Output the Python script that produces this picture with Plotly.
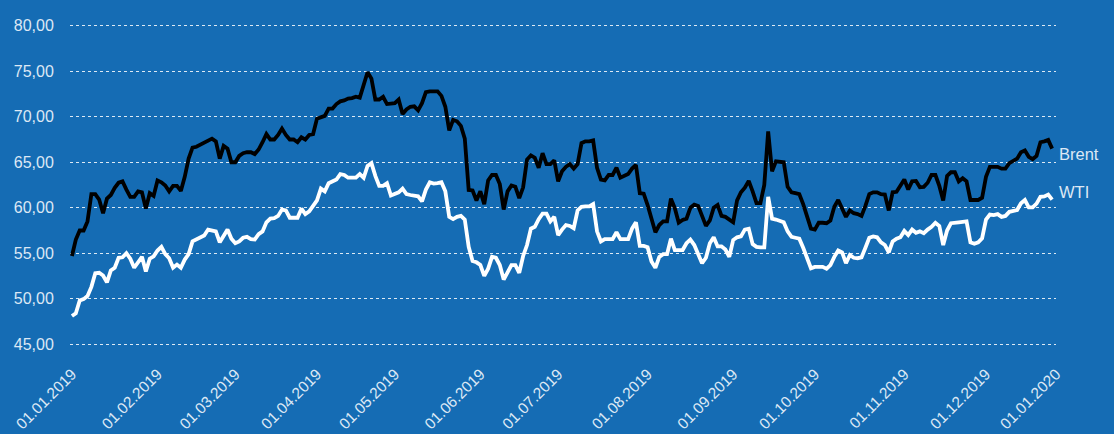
import numpy as np
import pandas as pd
import plotly.graph_objects as go

# Exchange holidays 2019 (trading calendar of the category axis)
holidays = ['2019-01-01', '2019-04-19', '2019-04-22', '2019-05-01',
            '2019-12-24', '2019-12-25', '2019-12-26', '2019-12-31']
trading_days = pd.bdate_range('2019-01-01', '2019-12-31', freq='C', holidays=holidays)

brent = [
    54.7, 56.5, 57.5, 57.5, 58.5, 61.5, 61.5, 60.9, 59.4, 61.0,
    61.4, 62.2, 62.75, 62.9, 62.0, 61.2, 61.2, 61.8, 61.7, 59.9,
    61.6, 61.3, 63.0, 62.8, 62.45, 61.8, 62.4, 62.4, 61.85, 63.4,
    65.4, 66.6, 66.7, 66.95, 67.2, 67.35, 67.6, 67.3, 65.4, 66.8,
    66.5, 65.0, 65.0, 65.7, 66.0, 66.1, 66.1, 65.9, 66.4, 67.2,
    68.1, 67.5, 67.5, 68.0, 68.7, 68.0, 67.5, 67.5, 67.2, 67.75,
    67.5, 68.0, 68.1, 69.8, 70.0, 70.1, 70.9, 70.9, 71.4, 71.7,
    71.8, 72.0, 72.05, 72.2, 72.1, 73.5, 74.9, 74.2, 71.9, 71.9,
    72.2, 71.4, 71.5, 71.5, 71.9, 70.3, 70.8, 71.1, 71.15, 70.7,
    71.5, 72.7, 72.8, 72.8, 72.8, 72.3, 71.1, 68.5, 69.65, 69.5,
    69.0, 67.6, 61.95, 61.9, 60.8, 61.8, 60.4, 63.0, 63.6, 63.6,
    62.6, 59.8, 61.8, 62.45, 62.3, 61.05, 62.25, 65.3, 65.75, 65.5,
    64.4, 66.0, 64.8, 64.8, 65.2, 62.9, 64.0, 64.5, 64.8, 64.3,
    64.8, 67.1, 67.3, 67.3, 67.4, 64.4, 63.1, 63.0, 63.6, 63.6,
    64.4, 63.3, 63.45, 63.7, 64.3, 64.7, 61.6, 61.55, 60.3, 58.6,
    57.3, 58.1, 58.5, 58.5, 61.0, 59.95, 58.35, 58.65, 58.8, 60.0,
    60.35, 60.2, 59.1, 58.0, 58.6, 60.0, 60.3, 59.1, 59.0, 58.7,
    58.4, 60.8, 61.7, 62.2, 62.95, 61.8, 60.5, 60.5, 62.5, 68.4,
    64.0, 65.1, 65.1, 65.0, 62.3, 61.7, 61.6, 61.5, 60.4, 59.1,
    57.7, 57.6, 58.35, 58.35, 58.3, 58.6, 60.1, 60.85, 59.8, 59.0,
    59.7, 59.4, 59.3, 59.1, 60.2, 61.5, 61.7, 61.7, 61.5, 61.45,
    59.7, 61.7, 61.75, 62.4, 63.1, 62.0, 62.9, 62.95, 62.25, 62.3,
    62.75, 63.6, 63.6, 62.4, 60.8, 63.5, 63.9, 63.9, 62.9, 63.25,
    62.9, 60.85, 60.8, 60.85, 61.1, 63.4, 64.5, 64.5, 64.5, 64.3,
    64.3, 64.9, 65.1, 65.4, 66.1, 66.3, 65.6, 65.35, 65.7, 67.2,
    67.3, 67.45, 66.5,
]

wti = [
    48.1, 48.4, 49.8, 49.95, 50.3, 51.3, 52.8, 52.85, 52.55, 51.8,
    53.1, 53.4, 54.5, 54.55, 55.0, 54.4, 53.4, 54.1, 54.6, 53.0,
    54.4, 54.65, 55.3, 55.7, 54.9, 54.45, 53.4, 53.75, 53.4, 54.3,
    54.9, 56.3, 56.5, 56.75, 56.95, 57.6, 57.5, 57.4, 56.2, 57.0,
    57.6, 56.6, 56.1, 56.3, 56.7, 56.8, 56.55, 56.5, 57.1, 57.4,
    58.4, 58.8, 58.85, 59.1, 59.8, 59.7, 58.9, 58.9, 58.9, 59.9,
    59.3, 59.6, 60.2, 60.8, 62.1, 61.8, 62.7, 62.85, 63.1, 63.7,
    63.6, 63.3, 63.3, 63.3, 63.7, 63.3, 64.6, 64.9, 63.5, 62.4,
    62.4, 62.7, 61.35, 61.5, 61.7, 62.1, 61.5, 61.4, 61.3, 61.25,
    60.7, 62.0, 62.8, 62.65, 62.7, 62.8, 61.8, 59.0, 58.75, 59.0,
    59.1, 58.7, 55.7, 54.15, 54.0, 53.7, 52.5, 53.3, 54.6, 54.5,
    53.7, 52.1, 52.9, 53.7, 53.7, 52.85, 54.7, 55.9, 57.7, 57.9,
    58.75, 59.35, 59.35, 58.5, 59.0, 57.0, 57.6, 58.1, 58.0, 57.75,
    59.7, 60.1, 60.15, 60.15, 60.4, 57.4, 56.3, 56.55, 56.55, 56.55,
    57.3, 56.55, 56.55, 56.55, 57.7, 58.4, 55.8, 55.8, 55.65, 54.1,
    53.4, 54.6, 54.9, 54.9, 56.6, 55.35, 55.35, 55.35, 56.1, 56.5,
    55.9, 54.9, 53.9, 54.5, 56.1, 56.75, 55.75, 55.75, 55.4, 54.6,
    56.45, 56.75, 56.85, 57.6, 57.7, 56.0, 55.7, 55.65, 55.65, 61.2,
    58.8, 58.7, 58.5, 58.4, 57.4, 56.8, 56.7, 56.6, 55.6, 54.6,
    53.35, 53.5, 53.5, 53.5, 53.3, 53.7, 54.6, 55.3, 55.1, 53.9,
    54.8, 54.5, 54.45, 54.55, 55.6, 56.7, 56.85, 56.75, 56.2, 55.9,
    55.1, 56.3, 56.6, 56.75, 57.45, 57.0, 57.6, 57.25, 57.4, 57.2,
    57.6, 57.9, 58.35, 58.0, 55.9, 57.5, 58.3, 58.3, 58.4, 58.45,
    58.5, 56.2, 56.05, 56.2, 56.65, 58.7, 59.25, 59.2, 59.3, 59.0,
    59.1, 59.55, 59.7, 59.75, 60.5, 60.85, 60.05, 60.05, 60.45, 61.2,
    61.25, 61.45, 60.9,
]

month_starts = ['2019-01-01', '2019-02-01', '2019-03-01', '2019-04-01',
                '2019-05-01', '2019-06-01', '2019-07-01', '2019-08-01',
                '2019-09-01', '2019-10-01', '2019-11-01', '2019-12-01',
                '2020-01-01']
tick_text = [pd.Timestamp(d).strftime('%d.%m.%Y') for d in month_starts]

y_ticks = [45, 50, 55, 60, 65, 70, 75, 80]

n = min(len(trading_days), len(brent), len(wti))
days = trading_days[:n].values.astype('datetime64[D]')
x = np.busday_count('2019-01-01', days, holidays=holidays)
tickvals = np.busday_count('2019-01-01', np.array(month_starts, dtype='datetime64[D]'),
                           holidays=holidays)

BG = '#156cb4'
TXT = '#dce8f5'
FONT = 'Liberation Sans, Arial, Helvetica, sans-serif'

fig = go.Figure()
fig.add_trace(go.Scatter(x=x, y=brent[:n], mode='lines', name='Brent',
                         line=dict(color='#000000', width=3.8), hoverinfo='skip'))
fig.add_trace(go.Scatter(x=x, y=wti[:n], mode='lines', name='WTI',
                         line=dict(color='#ffffff', width=3.8), hoverinfo='skip'))

fig.add_annotation(x=x[-1], y=brent[n - 1], text='Brent', showarrow=False,
                   xanchor='left', yanchor='middle', xshift=5, yshift=-5,
                   font=dict(family=FONT, size=16.5, color=TXT))
fig.add_annotation(x=x[-1], y=wti[n - 1], text='WTI', showarrow=False,
                   xanchor='left', yanchor='middle', xshift=5, yshift=8,
                   font=dict(family=FONT, size=16.5, color=TXT))

fig.update_layout(
    width=1114, height=434,
    margin=dict(l=70, r=58, t=24, b=88, pad=0),
    paper_bgcolor=BG, plot_bgcolor=BG,
    separators=',.',
    showlegend=False,
    font=dict(family=FONT, size=16, color=TXT),
    xaxis=dict(
        range=[-0.5, 253], tickmode='array', tickvals=tickvals, ticktext=tick_text,
        tickangle=-45, showgrid=False, zeroline=False, showline=False,
        ticks='outside', ticklen=12, tickcolor='rgba(0,0,0,0)',
        tickfont=dict(family=FONT, size=15.5, color=TXT), automargin=False,
    ),
    yaxis=dict(
        range=[44.8, 80.2], tickmode='array', tickvals=y_ticks, tickformat='.2f',
        showgrid=True, gridcolor='rgba(255,255,255,0.85)', gridwidth=1, griddash='dot',
        zeroline=False, showline=False,
        ticks='outside', ticklen=12, tickcolor='rgba(0,0,0,0)',
        tickfont=dict(family=FONT, size=16, color=TXT), automargin=False,
    ),
)

fig.write_html('out.html')
